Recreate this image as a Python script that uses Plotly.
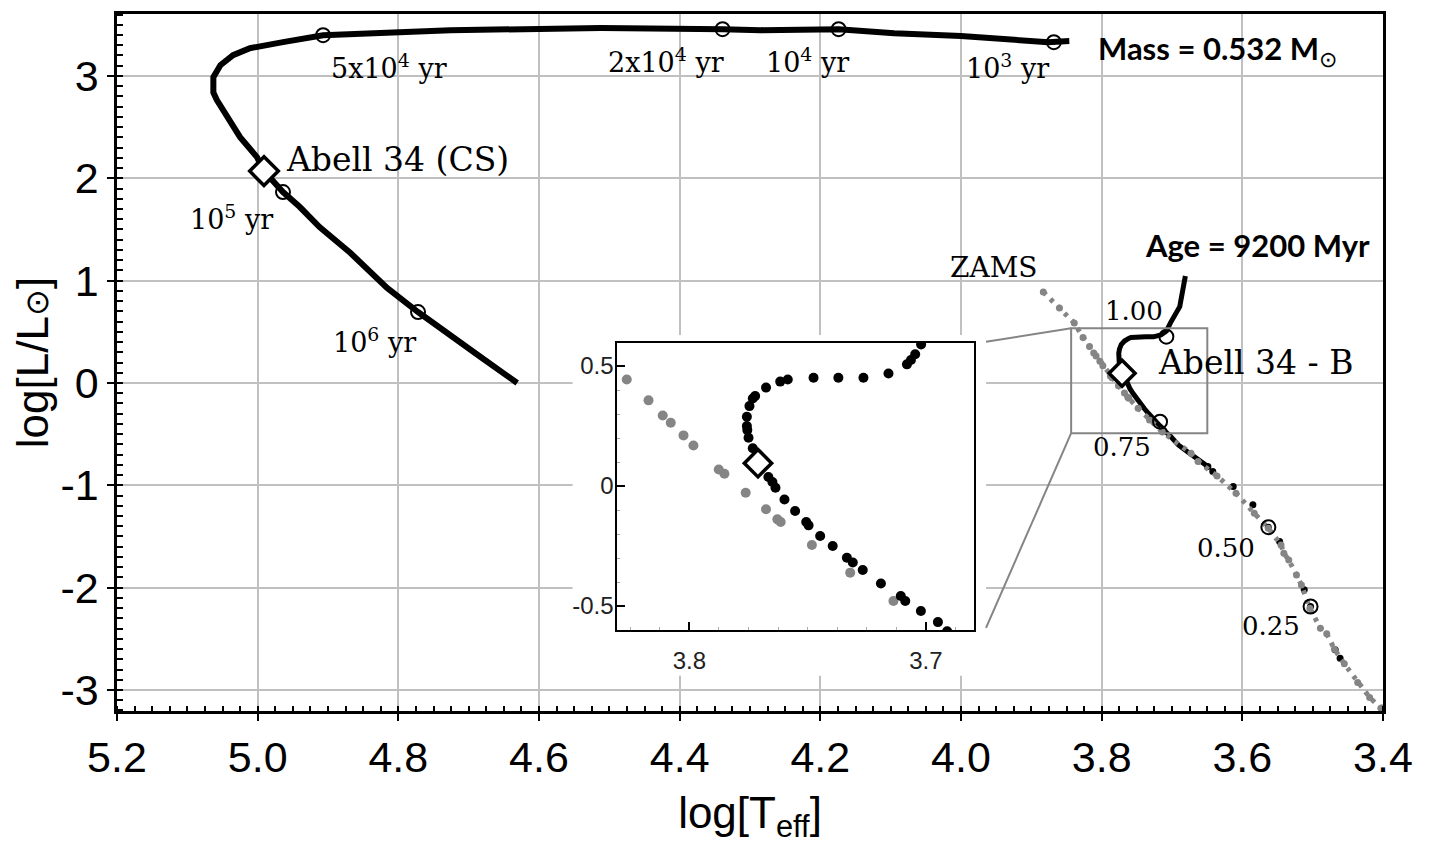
import plotly.graph_objects as go

# ---- post-AGB track of the central star (Mass = 0.532 Msun) ----
track_logt = [3.846, 3.876, 4.000, 4.095, 4.174, 4.285, 4.339, 4.512, 4.726, 4.844, 4.907,
              4.964, 5.011, 5.035, 5.053, 5.063, 5.063, 5.058, 5.043, 5.025, 5.001, 4.991,
              4.964, 4.940, 4.912, 4.868, 4.816, 4.772, 4.683, 4.631]
track_logl = [3.340, 3.330, 3.389, 3.418, 3.457, 3.447, 3.457, 3.467, 3.447, 3.418, 3.398,
              3.330, 3.271, 3.203, 3.105, 2.988, 2.838, 2.764, 2.598, 2.402, 2.207, 2.070,
              1.865, 1.719, 1.523, 1.270, 0.928, 0.693, 0.254, 0.000]

# age marks along the track
age_labels = ["10<sup>3</sup> yr", "10<sup>4</sup> yr", "2x10<sup>4</sup> yr",
              "5x10<sup>4</sup> yr", "10<sup>5</sup> yr", "10<sup>6</sup> yr"]
age_logt = [3.868, 4.174, 4.339, 4.907, 4.964, 4.772]
age_logl = [3.330, 3.457, 3.457, 3.398, 1.865, 0.693]

# central star position
cs_logt = [4.991]
cs_logl = [2.070]

# ---- 9200 Myr isochrone (black) ----
iso_logt = [3.681, 3.686, 3.689, 3.702, 3.7045, 3.7063, 3.708, 3.7158, 3.7264, 3.737, 3.7475,
            3.7584, 3.7616, 3.7676, 3.7722, 3.7732, 3.7746, 3.7757, 3.7757, 3.7755, 3.7750,
            3.7732, 3.7666, 3.7649, 3.7636, 3.7598, 3.7553, 3.7506, 3.7496, 3.7447, 3.7394,
            3.7334, 3.7309, 3.7267, 3.7190, 3.7106, 3.7087, 3.7021, 3.6949, 3.691, 3.678,
            3.649, 3.642, 3.613, 3.585, 3.563, 3.547, 3.512, 3.503, 3.468, 3.461, 3.402]
iso_logl = [1.045, 0.876, 0.745, 0.590, 0.549, 0.525, 0.507, 0.469, 0.451, 0.451, 0.451,
            0.444, 0.435, 0.410, 0.375, 0.365, 0.333, 0.289, 0.250, 0.233, 0.201,
            0.157, 0.0375, 0.017, -0.007, -0.056, -0.104, -0.150, -0.164, -0.208, -0.250,
            -0.299, -0.319, -0.350, -0.406, -0.458, -0.479, -0.521, -0.567, -0.605, -0.671,
            -0.817, -0.866, -1.012, -1.191, -1.409, -1.550, -2.021, -2.184, -2.607, -2.689, -3.177]
n_dense = 42  # the upper part of the isochrone looks like a continuous line

# mass marks on the isochrone
mass_labels = ["1.00", "0.75", "0.50", "0.25"]
mass_logt = [3.708, 3.717, 3.563, 3.503]
mass_logl = [0.452, -0.378, -1.409, -2.184]

# companion position
b_logt = [3.771]
b_logl = [0.095]

# ---- ZAMS (grey) ----
zams_logt = [3.883, 3.860, 3.839, 3.8265, 3.8173, 3.8113, 3.8079, 3.8025, 3.7983, 3.7876,
             3.7852, 3.7762, 3.7676, 3.7628, 3.7614, 3.7482, 3.7320, 3.7137, 3.673, 3.663,
             3.636, 3.609, 3.583, 3.563, 3.545, 3.541, 3.534, 3.523, 3.516, 3.504, 3.489,
             3.480, 3.469, 3.455, 3.436, 3.419, 3.403]
zams_logl = [0.889, 0.732, 0.586, 0.444, 0.357, 0.294, 0.264, 0.211, 0.169, 0.069,
             0.051, -0.028, -0.097, -0.139, -0.150, -0.246, -0.361, -0.479, -0.687, -0.768,
             -0.908, -1.077, -1.273, -1.419, -1.582, -1.663, -1.729, -1.875, -1.973, -2.200, -2.396,
             -2.451, -2.601, -2.744, -2.927, -3.073, -3.177]

# ---- ticks ----
x_ticks = [5.2, 5.0, 4.8, 4.6, 4.4, 4.2, 4.0, 3.8, 3.6, 3.4]
x_ticktext = ["5.2", "5.0", "4.8", "4.6", "4.4", "4.2", "4.0", "3.8", "3.6", "3.4"]
y_ticks = [3, 2, 1, 0, -1, -2, -3]
y_ticktext = ["3", "2", "1", "0", "-1", "-2", "-3"]
inset_x_ticks = [3.8, 3.7]
inset_x_ticktext = ["3.8", "3.7"]
inset_y_ticks = [0.5, 0, -0.5]
inset_y_ticktext = ["0.5", "0", "-0.5"]

SANS = "Liberation Sans, Arial, sans-serif"
SERIF = "DejaVu Serif, Liberation Serif, serif"
BOLD_SANS = "Lato, Open Sans, sans-serif"
GREY = "#858585"

fig = go.Figure()

# ===================== main panel =====================
fig.add_trace(go.Scatter(
    x=track_logt, y=track_logl, mode="lines",
    line=dict(color="black", width=6),
))
fig.add_trace(go.Scatter(
    x=age_logt, y=age_logl, mode="markers",
    marker=dict(symbol="circle-open", size=14, color="black", line=dict(width=2)),
))
fig.add_trace(go.Scatter(
    x=cs_logt, y=cs_logl, mode="markers",
    marker=dict(symbol="diamond", size=22, color="white", line=dict(color="black", width=3.5)),
))

# isochrone: dense part as line, rest as dots
fig.add_trace(go.Scatter(
    x=iso_logt[:n_dense], y=iso_logl[:n_dense], mode="lines",
    line=dict(color="black", width=5),
))
fig.add_trace(go.Scatter(
    x=iso_logt[n_dense - 1:], y=iso_logl[n_dense - 1:], mode="markers",
    marker=dict(color="black", size=7),
))
fig.add_trace(go.Scatter(
    x=zams_logt, y=zams_logl, mode="lines+markers",
    line=dict(color=GREY, width=5, dash="4px,6px"),
    marker=dict(color=GREY, size=7),
))
fig.add_trace(go.Scatter(
    x=mass_logt, y=mass_logl, mode="markers",
    marker=dict(symbol="circle-open", size=14, color="black", line=dict(width=2)),
))
fig.add_trace(go.Scatter(
    x=b_logt, y=b_logl, mode="markers",
    marker=dict(symbol="diamond", size=20, color="white", line=dict(color="black", width=3.5)),
))

# ===================== inset =====================
fig.add_trace(go.Scatter(
    x=zams_logt, y=zams_logl, mode="markers", xaxis="x2", yaxis="y2",
    marker=dict(color=GREY, size=10),
))
fig.add_trace(go.Scatter(
    x=iso_logt, y=iso_logl, mode="markers", xaxis="x2", yaxis="y2",
    marker=dict(color="black", size=10),
))
fig.add_trace(go.Scatter(
    x=b_logt, y=b_logl, mode="markers", xaxis="x2", yaxis="y2",
    marker=dict(symbol="diamond", size=21, color="white", line=dict(color="black", width=3.5)),
))

# ---- text ----
annotations = []
age_shift = [(-46, -24), (-31, -31), (-57, -31), (66, -31), (-51, -25), (-44, -28)]
for lab, x, y, (dx, dy) in zip(age_labels, age_logt, age_logl, age_shift):
    annotations.append(dict(x=x, y=y, text=lab, showarrow=False, xshift=dx, yshift=dy,
                            font=dict(family=SERIF, size=27, color="black")))
mass_shift = [(-32, 26), (-38, -25), (-42, -21), (-40, -19)]
for lab, x, y, (dx, dy) in zip(mass_labels, mass_logt, mass_logl, mass_shift):
    annotations.append(dict(x=x, y=y, text=lab, showarrow=False, xshift=dx, yshift=dy,
                            font=dict(family=SERIF, size=26, color="black")))

annotations += [
    dict(x=cs_logt[0], y=cs_logl[0], text="Abell 34 (CS)", showarrow=False,
         xanchor="left", xshift=20, yshift=12, font=dict(family=SERIF, size=33, color="black")),
    dict(x=b_logt[0], y=b_logl[0], text="Abell 34 - B", showarrow=False,
         xanchor="left", xshift=34, yshift=11, font=dict(family=SERIF, size=33, color="black")),
    dict(x=3.953, y=1.133, text="ZAMS", showarrow=False,
         font=dict(family=SERIF, size=28, color="black")),
    dict(x=3.636, y=3.252, text="<b>Mass = 0.532 M</b><sub>⊙</sub>", showarrow=False,
         font=dict(family=BOLD_SANS, size=31, color="black")),
    dict(x=3.579, y=1.348, text="<b>Age = 9200 Myr</b>", showarrow=False,
         font=dict(family=BOLD_SANS, size=31, color="black")),
]

shapes = [
    # white patch hiding the grid behind the inset
    dict(type="rect", xref="x", yref="y", x0=4.5523, x1=3.9644, y0=-2.861, y1=0.469,
         fillcolor="white", line=dict(width=0), layer="between"),
    # zoom box and connectors
    dict(type="rect", xref="x", yref="y", x0=3.8434, x1=3.6498, y0=-0.491, y1=0.534,
         line=dict(color=GREY, width=2)),
    dict(type="line", xref="x", yref="y", x0=3.8434, y0=0.534, x1=3.9644, y1=0.403,
         line=dict(color=GREY, width=2)),
    dict(type="line", xref="x", yref="y", x0=3.8434, y0=-0.491, x1=3.9644, y1=-2.393,
         line=dict(color=GREY, width=2)),
]

# the page body has an 8 px margin, so the figure is 16 px smaller than the window
fig.update_layout(
    width=1418, height=836,
    margin=dict(l=109, r=43, t=6, b=133, autoexpand=False),
    paper_bgcolor="white", plot_bgcolor="white",
    showlegend=False,
    annotations=annotations,
    shapes=shapes,
    xaxis=dict(
        range=[5.2, 3.4], tickmode="array", tickvals=x_ticks, ticktext=x_ticktext,
        ticks="outside", ticklen=7, tickwidth=2, tickcolor="black",
        showline=True, linecolor="black", linewidth=2.5, mirror=True,
        showgrid=True, gridcolor="#c0c0c0", gridwidth=2, zeroline=False,
        automargin=False,
        minor=dict(tickmode="linear", tick0=3.4, dtick=0.025, ticks="inside",
                   ticklen=5, tickwidth=1.5, tickcolor="black", showgrid=False),
        tickfont=dict(family=SANS, size=43, color="black"),
        title=dict(text="log[T<sub>eff</sub>]", standoff=22,
                   font=dict(family=SANS, size=44, color="black")),
    ),
    yaxis=dict(
        range=[-3.205, 3.605], tickmode="array", tickvals=y_ticks, ticktext=y_ticktext,
        ticks="outside", ticklen=7, tickwidth=2, tickcolor="black",
        showline=True, linecolor="black", linewidth=2.5, mirror=True,
        showgrid=True, gridcolor="#c0c0c0", gridwidth=2, zeroline=False,
        automargin=False,
        minor=dict(tickmode="linear", tick0=0, dtick=0.1, ticks="inside",
                   ticklen=6, tickwidth=1.5, tickcolor="black", showgrid=False),
        tickfont=dict(family=SANS, size=43, color="black"),
        title=dict(text="log[L/L<span style='font-size:32px'>⊙</span>]", standoff=20,
                   font=dict(family=SANS, size=44, color="black")),
    ),
    xaxis2=dict(
        domain=[0.395, 0.677], anchor="y2", range=[3.8306, 3.6796],
        tickmode="array", tickvals=inset_x_ticks, ticktext=inset_x_ticktext,
        ticks="inside", ticklen=8, tickwidth=2, tickcolor="black",
        showline=True, linecolor="black", linewidth=1.5, mirror=True,
        showgrid=False, zeroline=False, ticklabelstandoff=8, automargin=False,
        minor=dict(tickmode="linear", tick0=3.7, dtick=0.0125, ticks="inside",
                   ticklen=3, tickwidth=1, tickcolor="#aaaaaa"),
        tickfont=dict(family=SANS, size=24, color="#222222"),
    ),
    yaxis2=dict(
        domain=[0.1162, 0.528], anchor="x2", range=[-0.6, 0.596],
        tickmode="array", tickvals=inset_y_ticks, ticktext=inset_y_ticktext,
        ticks="inside", ticklen=8, tickwidth=2, tickcolor="black",
        showline=True, linecolor="black", linewidth=1.5, mirror=True,
        showgrid=False, zeroline=False, ticklabelstandoff=-3, automargin=False,
        minor=dict(tickmode="linear", tick0=0, dtick=0.1, ticks="inside",
                   ticklen=3, tickwidth=1, tickcolor="#aaaaaa"),
        tickfont=dict(family=SANS, size=24, color="#222222"),
    ),
)

fig.write_html("out.html")
